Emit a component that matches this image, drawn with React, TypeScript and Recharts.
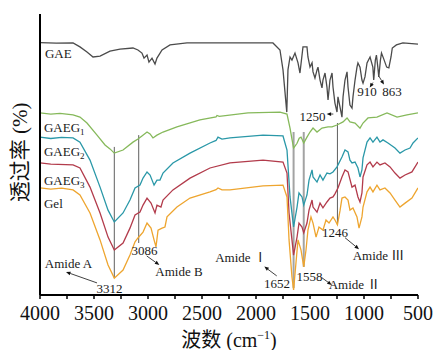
import React from 'react';
import { LineChart, Line, XAxis, YAxis, ReferenceLine, ReferenceDot, Label } from 'recharts';

// ---------- tick values ----------
const wavenumberTicks = [4000, 3750, 3500, 3250, 3000, 2750, 2500, 2250, 2000, 1750, 1500, 1250, 1000, 750, 500];
const labelledTicks = [4000, 3500, 3000, 2500, 2000, 1500, 1000, 500];

// ---------- series (wavenumber cm-1, transmittance, offset) ----------
const gaeWavenumber = [4000, 3850, 3694, 3630, 3565, 3509, 3444, 3352, 3259, 3139, 3093, 3056, 3037, 3009, 2991, 2963, 2935, 2917, 2870, 2796, 2639, 2333, 1843, 1778, 1750, 1715, 1704, 1685, 1667, 1639, 1611, 1593, 1565, 1528, 1519, 1500, 1481, 1472, 1454, 1435, 1426, 1407, 1389, 1380, 1361, 1343, 1333, 1315, 1296, 1287, 1269, 1250, 1241, 1222, 1204, 1194, 1176, 1157, 1148, 1130, 1111, 1102, 1083, 1065, 1056, 1037, 1019, 1009, 991, 972, 944, 918, 910, 895, 885, 872, 863, 848, 838, 820, 790, 770, 750, 738, 700, 640, 500];
const gaeTransmittance = [89.8, 89.6, 89.7, 88.3, 86.5, 84.7, 85.0, 86.8, 87.5, 87.9, 87.2, 86.1, 84.3, 85.4, 82.9, 84.3, 82.2, 84.3, 87.2, 89.0, 89.7, 89.7, 89.7, 87.2, 80.1, 65.1, 80.1, 84.7, 83.6, 86.1, 82.6, 79.0, 88.3, 88.3, 84.7, 81.1, 82.6, 79.4, 77.2, 80.1, 81.1, 76.5, 73.7, 76.5, 79.0, 74.0, 69.4, 76.5, 79.0, 74.0, 68.3, 65.1, 70.5, 66.9, 63.3, 70.5, 76.5, 79.4, 74.0, 67.6, 66.5, 70.5, 76.5, 81.1, 82.6, 81.1, 76.5, 75.4, 77.6, 82.6, 84.7, 81.1, 76.5, 83.6, 85.4, 81.1, 77.6, 83.6, 86.1, 84.3, 81.1, 80.8, 84.7, 87.9, 89.0, 89.7, 89.3];

const gaeg1Wavenumber = [4000, 3900, 3815, 3694, 3630, 3565, 3472, 3398, 3352, 3312, 3231, 3139, 3093, 3056, 3009, 2981, 2954, 2917, 2861, 2732, 2519, 2370, 2361, 2340, 2074, 1778, 1713, 1685, 1667, 1652, 1620, 1600, 1583, 1558, 1528, 1500, 1472, 1435, 1389, 1333, 1296, 1250, 1194, 1157, 1130, 1083, 1037, 1009, 963, 880, 787, 694, 602, 500];
const gaeg1Transmittance = [64.8, 64.4, 64.6, 64.1, 63.3, 61.2, 56.9, 53.4, 52.0, 50.5, 51.6, 54.4, 55.5, 56.6, 58.0, 57.3, 55.9, 56.9, 58.0, 59.8, 62.3, 63.4, 63.9, 63.6, 64.8, 65.1, 64.4, 59.4, 55.5, 52.3, 54.0, 55.8, 56.2, 54.1, 56.2, 58.0, 59.4, 58.0, 59.4, 59.8, 59.8, 60.5, 61.6, 63.0, 61.6, 61.2, 59.4, 61.2, 63.0, 63.3, 64.8, 63.3, 64.1, 64.8];

const gaeg2Wavenumber = [4000, 3900, 3800, 3694, 3630, 3537, 3444, 3370, 3312, 3231, 3167, 3120, 3074, 3046, 3009, 2981, 2944, 2917, 2889, 2861, 2769, 2611, 2426, 2370, 2352, 2315, 2241, 1935, 1750, 1713, 1685, 1652, 1620, 1602, 1574, 1558, 1528, 1509, 1481, 1472, 1435, 1407, 1380, 1343, 1315, 1287, 1250, 1204, 1176, 1148, 1130, 1111, 1083, 1056, 1037, 1019, 1009, 972, 944, 917, 880, 852, 824, 778, 713, 667, 620, 574, 546, 500];
const gaeg2Transmittance = [56.2, 55.7, 56.1, 55.9, 54.4, 48.0, 38.4, 30.2, 26.0, 29.2, 33.8, 38.1, 39.1, 41.6, 43.8, 42.7, 39.1, 40.9, 40.9, 43.4, 47.0, 50.5, 54.1, 55.0, 56.2, 55.5, 55.9, 56.9, 56.6, 51.6, 34.9, 24.2, 31.3, 36.3, 34.9, 32.0, 35.6, 40.9, 44.5, 42.0, 40.2, 42.7, 40.9, 43.4, 43.1, 43.8, 45.6, 49.1, 51.6, 50.9, 48.0, 47.0, 47.3, 45.2, 42.0, 44.5, 48.8, 54.4, 55.9, 54.4, 56.2, 54.4, 55.2, 54.1, 52.3, 50.5, 51.6, 52.3, 54.1, 55.9];

const gaeg3Wavenumber = [4000, 3900, 3694, 3630, 3537, 3444, 3370, 3312, 3231, 3167, 3120, 3074, 3046, 3009, 2972, 2935, 2917, 2880, 2861, 2769, 2611, 2426, 2241, 1935, 1750, 1713, 1694, 1667, 1652, 1620, 1602, 1574, 1558, 1528, 1509, 1481, 1472, 1435, 1407, 1380, 1343, 1315, 1287, 1269, 1241, 1204, 1176, 1148, 1111, 1083, 1056, 1037, 1019, 1009, 972, 944, 917, 880, 852, 806, 759, 713, 667, 620, 556, 500];
const gaeg3Transmittance = [47.0, 46.6, 46.3, 45.2, 38.4, 29.2, 20.6, 16.0, 18.5, 23.8, 28.5, 29.5, 32.0, 34.5, 32.7, 29.2, 32.0, 31.3, 33.8, 37.4, 41.6, 45.2, 47.0, 48.0, 47.3, 43.4, 29.2, 19.6, 14.2, 20.6, 25.6, 24.2, 22.1, 25.6, 30.2, 33.8, 31.3, 29.5, 32.7, 31.0, 33.1, 34.5, 34.9, 36.0, 38.1, 42.0, 44.5, 43.8, 38.4, 39.1, 34.9, 33.1, 36.3, 42.0, 46.3, 47.3, 45.6, 47.3, 46.3, 47.0, 45.6, 43.4, 41.6, 42.7, 43.8, 47.3];

const gelWavenumber = [4000, 3900, 3800, 3694, 3630, 3537, 3444, 3370, 3312, 3231, 3167, 3120, 3093, 3046, 3009, 2972, 2944, 2926, 2907, 2870, 2843, 2824, 2732, 2611, 2426, 2370, 2352, 2315, 2241, 1935, 1750, 1713, 1694, 1667, 1652, 1630, 1611, 1583, 1558, 1537, 1519, 1491, 1472, 1444, 1417, 1380, 1352, 1324, 1287, 1269, 1246, 1222, 1204, 1176, 1148, 1130, 1102, 1065, 1046, 1019, 1009, 972, 944, 917, 880, 852, 806, 759, 713, 667, 620, 556, 500];
const gelTransmittance = [38.1, 37.7, 38.0, 37.4, 35.6, 29.2, 19.6, 10.7, 6.0, 8.9, 14.2, 18.9, 20.3, 22.4, 25.6, 23.8, 19.6, 17.1, 23.1, 23.8, 24.2, 27.8, 31.3, 34.5, 36.7, 37.5, 38.1, 37.4, 37.4, 38.8, 39.1, 34.9, 19.6, 6.4, 1.8, 11.4, 19.6, 16.0, 10.0, 16.0, 23.1, 27.8, 25.6, 20.6, 24.2, 23.1, 26.7, 25.6, 27.8, 26.7, 25.0, 30.0, 34.5, 34.9, 33.8, 30.2, 31.0, 27.8, 23.8, 27.8, 31.3, 36.7, 38.4, 36.7, 39.1, 37.4, 38.1, 36.3, 33.8, 31.3, 32.7, 34.5, 38.1];

// ---------- helpers ----------
const FONT = '"Liberation Serif", "Noto Sans CJK SC", serif';

const toPoints = (wn: number[], tr: number[]) => wn.map((w, i) => ({ w, t: tr[i] }));

const series = [
  { name: 'GAE', data: toPoints(gaeWavenumber, gaeTransmittance), color: '#4b4b4b' },
  { name: 'GAEG1', data: toPoints(gaeg1Wavenumber, gaeg1Transmittance), color: '#86b95b' },
  { name: 'GAEG2', data: toPoints(gaeg2Wavenumber, gaeg2Transmittance), color: '#2a98a8' },
  { name: 'GAEG3', data: toPoints(gaeg3Wavenumber, gaeg3Transmittance), color: '#b23b4b' },
  { name: 'Gel', data: toPoints(gelWavenumber, gelTransmittance), color: '#eea52f' },
];

const guideLines = [
  { w: 3312, top: 52.7, bottom: 6.0, color: '#4d4d4d', width: 0.9 },
  { w: 3086, top: 56.9, bottom: 18.5, color: '#4d4d4d', width: 0.9 },
  { w: 1652, top: 58.0, bottom: 2.5, color: '#a3a3a3', width: 2 },
  { w: 1558, top: 58.0, bottom: 10.0, color: '#a3a3a3', width: 2 },
  { w: 1246, top: 61.2, bottom: 24.9, color: '#4d4d4d', width: 0.9 },
];

const arrowNotes = [
  { from: [3472, 4.3], to: [3759, 8.2] },
  { from: [3012, 13.9], to: [2895, 10.7] },
  { from: [1808, 6.8], to: [1923, 10.1] },
  { from: [1392, 6.2], to: [1299, 3.6] },
  { from: [1176, 20.4], to: [1046, 16.3] },
  { from: [1284, 64.4], to: [1346, 64.4] },
  { from: [917, 75.6], to: [947, 73.8] },
  { from: [861, 77.8], to: [815, 74.9] },
];

const sub = (base: string, n: string) => (
  <>
    <tspan>{base}</tspan>
    <tspan fontSize={9} dy={3}>{n}</tspan>
  </>
);

type Note = { w: number; t: number; anchor: 'start' | 'middle' | 'end'; content: React.ReactNode };
const textNotes: Note[] = [
  { w: 3954, t: 85.9, anchor: 'start', content: 'GAE' },
  { w: 3963, t: 59.6, anchor: 'start', content: sub('GAEG', '1') },
  { w: 3963, t: 51.1, anchor: 'start', content: sub('GAEG', '2') },
  { w: 3963, t: 40.9, anchor: 'start', content: sub('GAEG', '3') },
  { w: 3963, t: 32.7, anchor: 'start', content: 'Gel' },
  { w: 3736, t: 11.4, anchor: 'middle', content: 'Amide A' },
  { w: 3357, t: 2.5, anchor: 'middle', content: '3312' },
  { w: 3032, t: 15.7, anchor: 'middle', content: '3086' },
  { w: 2713, t: 8.4, anchor: 'middle', content: 'Amide B' },
  { w: 2139, t: 13.2, anchor: 'middle', content: 'Amide Ⅰ' },
  { w: 1806, t: 4.1, anchor: 'middle', content: '1652' },
  { w: 1505, t: 6.6, anchor: 'middle', content: '1558' },
  { w: 1088, t: 3.6, anchor: 'middle', content: 'Amide Ⅱ' },
  { w: 1269, t: 22.1, anchor: 'middle', content: '1246' },
  { w: 866, t: 14.1, anchor: 'middle', content: 'Amide Ⅲ' },
  { w: 1477, t: 63.7, anchor: 'middle', content: '1250' },
  { w: 972, t: 72.4, anchor: 'middle', content: '910' },
  { w: 741, t: 72.4, anchor: 'middle', content: '863' },
];

const ArrowShape = (props: any) => {
  const { x1, y1, x2, y2 } = props;
  const ang = Math.atan2(y2 - y1, x2 - x1);
  const L = 4.5;
  const W = 1.9;
  const bx = x2 - L * Math.cos(ang);
  const by = y2 - L * Math.sin(ang);
  const px = -Math.sin(ang) * W;
  const py = Math.cos(ang) * W;
  return (
    <g>
      <line x1={x1} y1={y1} x2={bx} y2={by} stroke="#111" strokeWidth={0.8} />
      <polygon points={`${x2},${y2} ${bx + px},${by + py} ${bx - px},${by - py}`} fill="#111" />
    </g>
  );
};

const makeText = (content: React.ReactNode, anchor: 'start' | 'middle' | 'end') => (p: any) => (
  <text x={p.cx} y={p.cy} dy="0.35em" textAnchor={anchor} style={{ fontFamily: FONT, fontSize: 13 }} fill="#1a1a1a">
    {content}
  </text>
);

const XTitle = (props: any) => {
  const vb = props.viewBox || { x: 40, y: 295, width: 378, height: 55 };
  return (
    <text x={vb.x + vb.width / 2} y={vb.y + 52} textAnchor="middle" style={{ fontFamily: FONT, fontSize: 20 }} fill="#111">
      <tspan>波数 (cm</tspan>
      <tspan style={{ fontSize: 12 }} dy={-8}>−1</tspan>
      <tspan dy={8}>)</tspan>
    </text>
  );
};

const YTitle = (props: any) => {
  const vb = props.viewBox || { x: 0, y: 14, width: 40, height: 281 };
  const cx = 20;
  const cy = vb.y + vb.height / 2 - 2;
  return (
    <text
      x={cx}
      y={cy}
      textAnchor="middle"
      dominantBaseline="central"
      transform={`rotate(-90, ${cx}, ${cy})`}
      style={{ fontFamily: FONT, fontSize: 21 }}
      fill="#111"
    >
      透过率 (%)
    </text>
  );
};

export default function App() {
  return (
    <div style={{ position: 'absolute', left: 0, top: 0, background: '#fff', fontFamily: FONT }}>
      <LineChart width={435} height={350} margin={{ top: 14, right: 17, bottom: 0, left: 0 }}>
        <XAxis
          type="number"
          dataKey="w"
          domain={[500, 4000]}
          reversed
          ticks={wavenumberTicks}
          interval={0}
          allowDataOverflow
          tickFormatter={(v: number) => (labelledTicks.includes(v) ? String(v) : '')}
          tick={{ fontSize: 20, fill: '#111', style: { fontFamily: FONT } }}
          tickSize={4}
          tickMargin={7}
          tickLine={{ stroke: '#000', strokeWidth: 1.5 }}
          axisLine={{ stroke: '#000', strokeWidth: 2 }}
          height={55}
        >
          <Label content={<XTitle />} />
        </XAxis>
        <YAxis
          type="number"
          domain={[0, 100]}
          allowDataOverflow
          tick={false}
          tickLine={false}
          axisLine={{ stroke: '#000', strokeWidth: 2 }}
          width={40}
        >
          <Label content={<YTitle />} />
        </YAxis>
        {guideLines.map((g) => (
          <ReferenceLine
            key={'g' + g.w}
            segment={[{ x: g.w, y: g.top }, { x: g.w, y: g.bottom }]}
            stroke={g.color}
            strokeWidth={g.width}
          />
        ))}
        {series.map((s) => (
          <Line
            key={s.name}
            data={s.data}
            dataKey="t"
            type="linear"
            stroke={s.color}
            strokeWidth={1.3}
            dot={false}
            activeDot={false}
            isAnimationActive={false}
          />
        ))}
        {arrowNotes.map((a, i) => (
          <ReferenceLine
            key={'a' + i}
            segment={[{ x: a.from[0], y: a.from[1] }, { x: a.to[0], y: a.to[1] }]}
            shape={ArrowShape}
          />
        ))}
        {textNotes.map((n, i) => (
          <ReferenceDot key={'t' + i} x={n.w} y={n.t} r={0} shape={makeText(n.content, n.anchor)} />
        ))}
      </LineChart>
    </div>
  );
}
